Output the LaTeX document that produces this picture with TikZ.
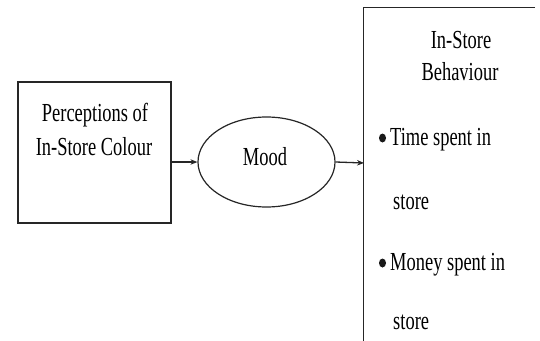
\documentclass[tikz,border=0pt]{standalone}
\usepackage{fontspec}
\setmainfont{Liberation Serif}[FakeStretch=0.71]
\usetikzlibrary{shapes.geometric,arrows.meta}
\begin{document}
\begin{tikzpicture}[x=1pt,y=-1pt,
  txt/.style={inner sep=0pt,font=\fontsize{26}{30}\selectfont},
  txtl/.style={txt,anchor=west},
  frame/.style={draw=black!85,line width=1.2pt},
  conn/.style={draw=black!85,line width=1.3pt,-{Stealth[length=7pt,width=5.5pt]}},
  bulletdot/.style={ellipse,fill=black!90,inner sep=0pt,minimum width=7pt,minimum height=9pt}]
\useasboundingbox (0,0) rectangle (540,340);
% left box
\node[frame,rectangle,minimum width=153pt,minimum height=141pt,inner sep=0pt] (lbox) at (94.5,152.5) {};
\node[txt] (l1) at (95,115) {Perceptions of};
\node[txt] (l2) at (94,147) {In-Store Colour};
% ellipse
\node[frame,ellipse,minimum width=137pt,minimum height=90pt,inner sep=0pt] (mood) at (266.5,162) {};
\node[txt] (moodt) at (265,157) {Mood};
% right box (only top and left edges visible)
\node[rectangle,minimum width=171pt,minimum height=344pt,inner sep=0pt] (rbox) at (449.5,180) {};
\draw[frame] (rbox.north east) -- (rbox.north west) -- (rbox.south west);
\coordinate (rin) at (364,163);
\node[txt] (r1) at (461,40) {In-Store};
\node[txt] (r2) at (460,72) {Behaviour};
\node[bulletdot] (b1) at (382.5,138) {};
\node[txtl] (r3) at (390,140) {Time spent in};
\node[txtl] (r4) at (393,202) {store};
\node[bulletdot] (b2) at (382.5,263) {};
\node[txtl] (r5) at (390,265) {Money spent in};
\node[txtl] (r6) at (393,322) {store};
% connectors
\draw[conn] (lbox.east |- mood.west) -- (mood.west);
\draw[conn] (mood.east) -- (rin);
\end{tikzpicture}
\end{document}
